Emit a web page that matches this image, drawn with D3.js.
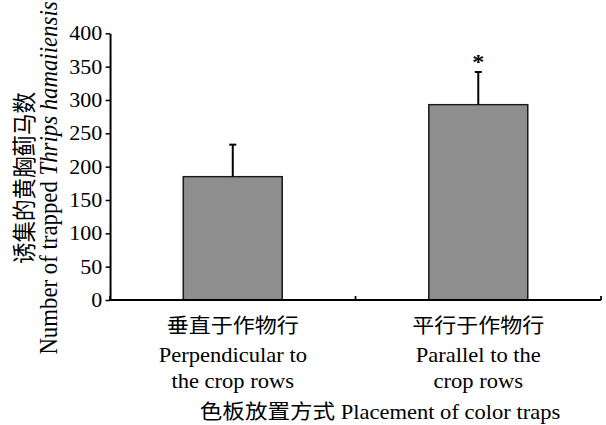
<!DOCTYPE html>
<html><head><meta charset="utf-8">
<script src="https://cdn.jsdelivr.net/npm/d3@7"></script>
<style>
html,body{margin:0;padding:0;background:#fff;}
svg{display:block;}
text{font-family:"Liberation Serif","Times New Roman","Noto Sans CJK SC",serif;fill:#000;}
</style></head>
<body>
<svg id="chart" width="606" height="425"></svg>
<script>
// ---- data ----
const categories = ["perp", "para"];
const catLabelsZh = ["垂直于作物行", "平行于作物行"];
const catLabelsEn = [["Perpendicular to", "the crop rows"], ["Parallel to the", "crop rows"]];
const means = [185, 293];
const errors = [48, 49];
const signif = ["", "*"];
const yTicks = [0, 50, 100, 150, 200, 250, 300, 350, 400];
const yTitleZh = "诱集的黄胸蓟马数";
const xTitle = "色板放置方式 Placement of color traps";

// ---- layout ----
const sx = 1.1; // horizontal stretch of the original figure
const mLeft = 100, mRight = 546.4, mTop = 33.3, mBottom = 300;
const SERIF = '"Liberation Serif", "Times New Roman", serif';
const CJK = '"Noto Sans CJK SC", sans-serif';

const svg = d3.select("#chart");
const g = svg.append("g").attr("transform", `scale(${sx},1)`);

const x = d3.scaleBand().domain(categories).range([mLeft, mRight]).paddingInner(0).paddingOuter(0);
const y = d3.scaleLinear().domain([0, 400]).range([mBottom, mTop]);
const barW = x.bandwidth() * 0.403;

// bars
g.selectAll("rect.bar").data(categories).join("rect")
  .attr("class", "bar")
  .attr("x", (d) => x(d) + x.bandwidth() / 2 - barW / 2)
  .attr("width", barW)
  .attr("y", (d, i) => y(means[i]))
  .attr("height", (d, i) => y(0) - y(means[i]))
  .attr("fill", "#8e8e8e")
  .attr("stroke", "#1a1a1a")
  .attr("stroke-width", 1.4);

// error bars (upper only)
const eb = g.selectAll("g.err").data(categories).join("g").attr("class", "err");
eb.append("line")
  .attr("x1", (d) => x(d) + x.bandwidth() / 2).attr("x2", (d) => x(d) + x.bandwidth() / 2)
  .attr("y1", (d, i) => y(means[i])).attr("y2", (d, i) => y(means[i] + errors[i]))
  .attr("stroke", "#000").attr("stroke-width", 1.8);
eb.append("line")
  .attr("x1", (d) => x(d) + x.bandwidth() / 2 - 3.2).attr("x2", (d) => x(d) + x.bandwidth() / 2 + 3.2)
  .attr("y1", (d, i) => y(means[i] + errors[i])).attr("y2", (d, i) => y(means[i] + errors[i]))
  .attr("stroke", "#000").attr("stroke-width", 2);

// significance marks
g.selectAll("text.sig").data(categories).join("text")
  .attr("class", "sig")
  .attr("x", (d) => x(d) + x.bandwidth() / 2)
  .attr("y", (d, i) => y(means[i] + errors[i]) - 3)
  .attr("text-anchor", "middle")
  .attr("font-family", SERIF)
  .attr("font-size", 22)
  .attr("font-weight", "bold")
  .text((d, i) => signif[i]);

// y axis
const yAxis = d3.axisLeft(y).tickValues(yTicks).tickSize(4).tickPadding(3).tickSizeOuter(0);
const ya = g.append("g").attr("transform", `translate(${mLeft},0)`).call(yAxis)
  .attr("font-family", SERIF).attr("font-size", 20);
ya.select(".domain").attr("stroke", "#000").attr("stroke-width", 1.8);
ya.selectAll(".tick line").attr("stroke", "#000").attr("stroke-width", 1.5);
ya.selectAll(".tick text").attr("fill", "#000").attr("font-family", SERIF).attr("font-size", 20);

// x axis: baseline + inward ticks at band boundaries
g.append("line").attr("x1", mLeft).attr("x2", mRight).attr("y1", mBottom).attr("y2", mBottom)
  .attr("stroke", "#000").attr("stroke-width", 2);
const bounds = [x(categories[0]), x(categories[1]), x(categories[1]) + x.bandwidth()];
g.selectAll("line.xtick").data(bounds).join("line").attr("class", "xtick")
  .attr("x1", (d) => d).attr("x2", (d) => d)
  .attr("y1", mBottom).attr("y2", mBottom - 4)
  .attr("stroke", "#000").attr("stroke-width", 1.6);

// x category labels
const xl = g.selectAll("g.xl").data(categories).join("g").attr("class", "xl")
  .attr("transform", (d) => `translate(${x(d) + x.bandwidth() / 2},0)`);
xl.append("text").attr("y", 333).attr("text-anchor", "middle")
  .attr("font-size", 20).attr("font-family", CJK)
  .text((d, i) => catLabelsZh[i]);
xl.append("text").attr("y", 362).attr("text-anchor", "middle").attr("font-size", 20.5).attr("font-family", SERIF)
  .text((d, i) => catLabelsEn[i][0]);
xl.append("text").attr("y", 388).attr("text-anchor", "middle").attr("font-size", 20.5).attr("font-family", SERIF)
  .text((d, i) => catLabelsEn[i][1]);

// x title
g.append("text").attr("x", 345.5).attr("y", 419).attr("text-anchor", "middle")
  .attr("font-size", 20.5).attr("font-family", SERIF).text(xTitle);

// y title (two lines, rotated)
const yt = g.append("g").attr("transform", "translate(0,178) rotate(-90)");
yt.append("text").attr("x", 0).attr("y", 30).attr("text-anchor", "middle")
  .attr("font-size", 21.5).attr("font-family", CJK)
  .text(yTitleZh);
const yt2 = yt.append("text").attr("x", 0).attr("y", 52).attr("text-anchor", "middle")
  .attr("font-size", 22.8).attr("font-family", SERIF);
yt2.append("tspan").text("Number of trapped ");
yt2.append("tspan").attr("font-style", "italic").text("Thrips hamaiiensis");
</script>
</body></html>
